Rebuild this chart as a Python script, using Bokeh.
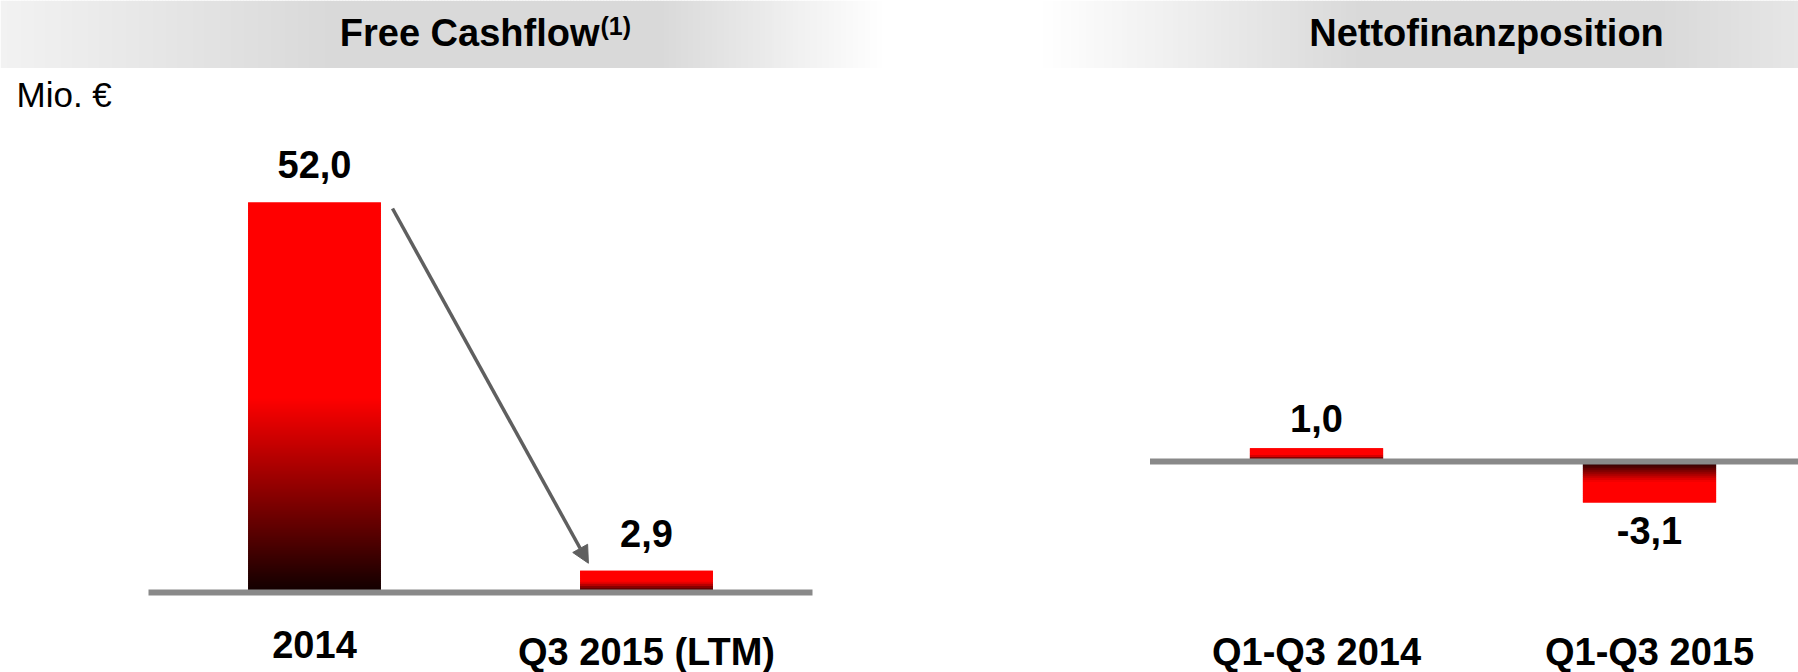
import numpy as np
from bokeh.plotting import figure
from bokeh.models import ColumnDataSource, Range1d, Arrow, NormalHead
from bokeh.layouts import column, row
from bokeh.embed import file_html
from bokeh.resources import INLINE
from bokeh.core.properties import value

# ---------------- data ----------------
fcf_title = "Free Cashflow"
fcf_title_note = "(1)"
fcf_categories = ["2014", "Q3 2015 (LTM)"]
fcf_values = [52.0, 2.9]

nfp_title = "Nettofinanzposition"
nfp_categories = ["Q1-Q3 2014", "Q1-Q3 2015"]
nfp_values = [1.0, -3.1]

unit_label = "Mio. €"

# ---------------- style ----------------
FONT = "Liberation Sans"
RED = (255, 0, 0)
DARK = (16, 0, 0)
BASE_COLOR = "#898989"
ARROW_COLOR = "#5f5f5f"
PANEL_W = 899
HEAD_H = 68
CHART_H = 672 - HEAD_H
LBL = 38          # bold label size (px)
CAP = 0.716       # cap height / font size


def fmt(v):
    return f"{v:.1f}".replace(".", ",")


def lerp_gray(stops, x):
    xs = [s[0] for s in stops]
    gs = [s[1] for s in stops]
    g = int(round(np.interp(x, xs, gs)))
    return f"#{g:02x}{g:02x}{g:02x}"


def header(title, note, text_x, stops):
    h = figure(width=PANEL_W, height=HEAD_H, x_range=Range1d(0, PANEL_W),
               y_range=Range1d(0, HEAD_H), toolbar_location=None,
               output_backend="svg", min_border=0,
               x_axis_location=None, y_axis_location=None)
    h.outline_line_color = None
    h.xgrid.visible = False
    h.ygrid.visible = False
    step = 3
    xs = np.arange(0, PANEL_W, step)
    cols = [lerp_gray(stops, x + step / 2) for x in xs]
    h.quad(left=xs, right=xs + step + 0.6, bottom=0, top=HEAD_H,
           fill_color=cols, line_color=None)
    size = 38
    top_y = HEAD_H - 11
    if note:
        h.text(x=[text_x], y=[top_y], text=[title], text_align="right",
               text_baseline="top", text_font=value(FONT),
               text_font_style="bold", text_font_size=f"{size}px", text_color="black")
        h.text(x=[text_x + 1], y=[HEAD_H - 11], text=[note], text_align="left",
               text_baseline="top", text_font=value(FONT),
               text_font_style="bold", text_font_size="25px", text_color="black")
    else:
        h.text(x=[text_x], y=[top_y], text=[title], text_align="center",
               text_baseline="top", text_font=value(FONT),
               text_font_style="bold", text_font_size=f"{size}px", text_color="black")
    return h


def grad_quads(p, xs, vals, width, ppu):
    L, R, B, T, C = [], [], [], [], []
    for x, v in zip(xs, vals):
        n = max(3, int(abs(v) * ppu / 2))
        for i in range(n):
            f0, f1 = i / n, (i + 1) / n
            k = min(((f0 + f1) / 2) / 0.5, 1.0)
            r = int(round(DARK[0] + (RED[0] - DARK[0]) * k))
            L.append(x - width / 2)
            R.append(x + width / 2)
            B.append(v * f0)
            T.append(v * min(f1 + 1.0 / n, 1.0))
            C.append(f"#{r:02x}0000")
    p.quad(left=L, right=R, bottom=B, top=T, fill_color=C, line_color=None)


def chart(categories, values, x0_px, ppx, zero_px, ppu, base_left, base_right,
          gap_pos, gap_neg):
    # the frame covers the whole chart figure
    x_start = -x0_px / ppx
    x_end = (PANEL_W - x0_px) / ppx
    y_end = (zero_px - HEAD_H) / ppu
    y_start = -(672 - zero_px) / ppu
    p = figure(width=PANEL_W, height=CHART_H, x_range=Range1d(x_start, x_end),
               y_range=Range1d(y_start, y_end), toolbar_location=None,
               output_backend="svg", min_border=0,
               x_axis_location=None, y_axis_location=None)
    p.outline_line_color = None
    p.xgrid.visible = False
    p.ygrid.visible = False

    idx = list(range(len(categories)))
    grad_quads(p, idx, values, 0.40, ppu)

    # baseline
    br = x_end if base_right is None else base_right
    p.segment(x0=[base_left], y0=[0], x1=[br], y1=[0], line_color=BASE_COLOR,
              line_width=6)

    # value labels (top-anchored text)
    off_pos = -(gap_pos + CAP * LBL)
    off_neg = gap_neg
    src = ColumnDataSource(dict(
        x=idx, y=values, t=[fmt(v) for v in values],
        off=[off_pos if v >= 0 else off_neg for v in values]))
    p.text(x="x", y="y", text="t", y_offset="off", text_baseline="top",
           text_align="center", text_font=value(FONT), text_font_style="bold",
           text_font_size=f"{LBL}px", text_color="black", source=src)

    # category labels
    cy = (zero_px - 630) / ppu
    p.text(x=idx, y=[cy] * len(idx), text=categories, text_align="center",
           text_baseline="top", text_font=value(FONT),
           text_font_style="bold", text_font_size=f"{LBL}px", text_color="black")
    return p, x_start, ppx, zero_px, ppu


# ---------------- headers ----------------
h1 = header(fcf_title, fcf_title_note, 599,
            [(0, 0xf2), (330, 0xd9), (660, 0xd9), (885, 0xff), (PANEL_W, 0xff)])
h2 = header(nfp_title, None, 1486 - PANEL_W,
            [(0, 0xff), (1040 - PANEL_W, 0xff), (1360 - PANEL_W, 0xd9),
             (1660 - PANEL_W, 0xd9), (PANEL_W, 0xe6)])

# ---------------- charts ----------------
p1, xs1, ppx1, z1, ppu1 = chart(fcf_categories, fcf_values, 314, 332, 592, 7.5,
                                -0.5, 1.5, 24, 15)
mio_size = 35
p1.text(x=[xs1 + 16 / ppx1], y=[(z1 - 74) / ppu1],
        text=[unit_label], text_align="left", text_baseline="top",
        text_font=value(FONT), text_font_size=f"{mio_size}px", text_color="black")
p1.add_layout(Arrow(end=NormalHead(size=17, fill_color=ARROW_COLOR,
                                   line_color=ARROW_COLOR),
                    x_start=0 + 0.235, y_start=fcf_values[0] - 0.8,
                    x_end=1 - 0.175, y_end=fcf_values[1] + 1.0,
                    line_color=ARROW_COLOR, line_width=3.5))

p2, _, _, _, _ = chart(nfp_categories, nfp_values, 1316 - PANEL_W, 333, 461, 13.2,
                       -0.5, None, 16, 15)

layout = column(row(h1, h2, spacing=0), row(p1, p2, spacing=0), spacing=0)

with open("out.html", "w") as f:
    f.write(file_html(layout, INLINE))
